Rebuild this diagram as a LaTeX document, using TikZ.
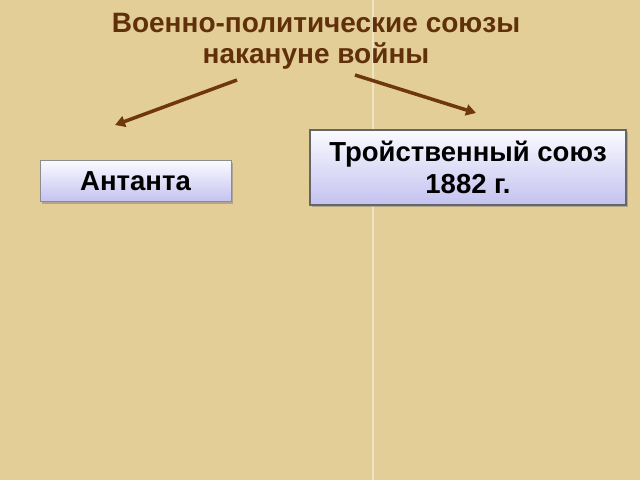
\documentclass[tikz,border=0pt]{standalone}
\usepackage{fontspec}
\setmainfont{Liberation Sans}
\usetikzlibrary{arrows.meta,shadows,positioning,calc}
\definecolor{papyrus}{RGB}{228,206,152}
\definecolor{titlebrown}{RGB}{96,48,10}
\definecolor{arrowbrown}{RGB}{110,56,12}
\definecolor{boxtop}{RGB}{250,250,255}
\definecolor{boxbot}{RGB}{196,194,240}
\tikzstyle{union}=[rectangle, draw=black!45, line width=1pt, top color=boxtop, bottom color=boxbot, drop shadow={shadow xshift=2pt, shadow yshift=-2pt, opacity=0.5}, font=\bfseries\fontsize{27.5}{32}\selectfont, align=center, inner sep=0pt]
\tikzstyle{link}=[-{Triangle[length=10pt,width=11pt]}, line width=3.5pt, draw=arrowbrown]
\begin{document}
\begin{tikzpicture}[x=1pt, y=-1pt]
      %
      \useasboundingbox (0,0) rectangle (640,480);
      \fill[papyrus] (0,0) rectangle (640,480);
      \draw[white!45!papyrus, line width=1.2pt] (373,0) -- (373,480);
      %
      \node at (316,41) [font=\bfseries\fontsize{28}{31}\selectfont, text=titlebrown, align=center] (title) {Военно-политические союзы\\накануне войны};
      %
      \node at (135.5,181) [union, minimum width=191pt, minimum height=41pt] (entente) {Антанта};
      \node at (468,167.5) [union, minimum width=316pt, minimum height=75pt, draw=black!60, line width=2pt] (triple) {Тройственный союз\\1882 г.};
      %
      \coordinate (lstart) at (237,80);
      \coordinate (lend) at (115,125);
      \coordinate (rstart) at (355,75);
      \coordinate (rend) at (476,113);
      \draw[link] (lstart) -- (lend);
      \draw[link] (rstart) -- (rend);
      %
\end{tikzpicture}
\end{document}
